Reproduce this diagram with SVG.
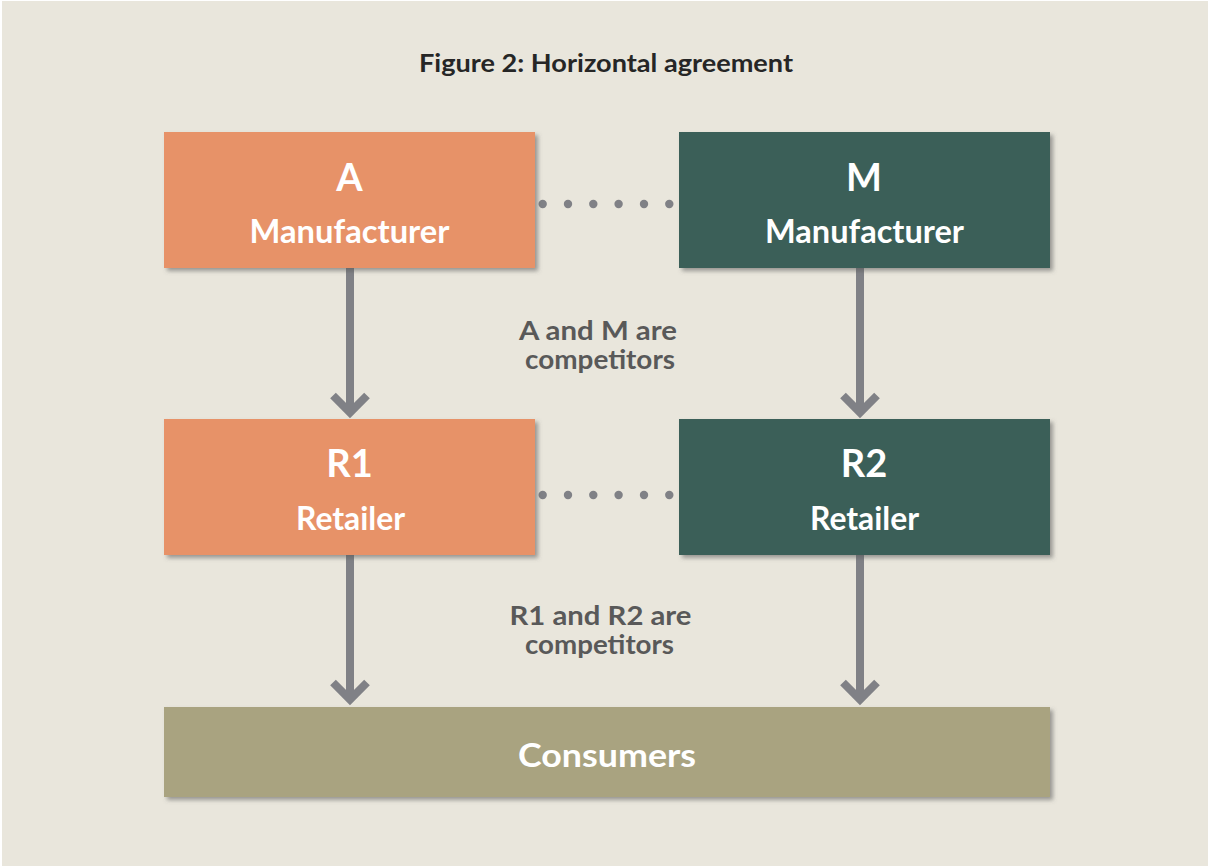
<svg xmlns="http://www.w3.org/2000/svg" width="1210" height="868" viewBox="0 0 1210 868">
<style>
.t{font-family:Lato,"Open Sans","Liberation Sans",sans-serif;font-weight:bold;text-anchor:middle}
.w{fill:#ffffff}
.big{font-size:38px}
.mid{font-size:32px}
.lab{font-size:26px;fill:#595959}
.conn line,.conn polyline{stroke:#808186;stroke-width:8;fill:none}
.dot{fill:#808186}
</style>
<defs>
<filter id="sh" x="-5%" y="-5%" width="115%" height="130%">
<feDropShadow dx="3" dy="3" stdDeviation="2" flood-color="#555" flood-opacity="0.55"/>
</filter>
</defs>
<rect x="0" y="0" width="1210" height="868" fill="#ffffff"/>
<rect x="2" y="1" width="1206" height="865" fill="#E9E6DC"/>
<text class="t" x="606" y="72" font-size="25" fill="#262626" textLength="374" lengthAdjust="spacingAndGlyphs">Figure 2: Horizontal agreement</text>

<g id="connectors" class="conn">
<line x1="350" y1="268" x2="350" y2="412"/>
<polyline points="333,395.5 350,412.5 367,395.5" stroke-linejoin="miter"/>
<line x1="860" y1="268" x2="860" y2="412"/>
<polyline points="843,395.5 860,412.5 877,395.5" stroke-linejoin="miter"/>
<line x1="350" y1="555" x2="350" y2="699"/>
<polyline points="333,682.5 350,699.5 367,682.5" stroke-linejoin="miter"/>
<line x1="860" y1="555" x2="860" y2="699"/>
<polyline points="843,682.5 860,699.5 877,682.5" stroke-linejoin="miter"/>
<g id="dots-top">
<circle class="dot" cx="542.7" cy="204" r="4.2"/>
<circle class="dot" cx="568" cy="204" r="4.2"/>
<circle class="dot" cx="593.3" cy="204" r="4.2"/>
<circle class="dot" cx="618.6" cy="204" r="4.2"/>
<circle class="dot" cx="644" cy="204" r="4.2"/>
<circle class="dot" cx="669.3" cy="204" r="4.2"/>
</g>
<g id="dots-bottom">
<circle class="dot" cx="542.7" cy="495" r="4.2"/>
<circle class="dot" cx="568" cy="495" r="4.2"/>
<circle class="dot" cx="593.3" cy="495" r="4.2"/>
<circle class="dot" cx="618.6" cy="495" r="4.2"/>
<circle class="dot" cx="644" cy="495" r="4.2"/>
<circle class="dot" cx="669.3" cy="495" r="4.2"/>
</g>
</g>

<g id="A">
<rect x="164" y="132" width="371" height="136" fill="#E79268" filter="url(#sh)"/>
<text class="t w big" x="349.5" y="191">A</text>
<text class="t w mid" x="349.5" y="243" textLength="200" lengthAdjust="spacingAndGlyphs">Manufacturer</text>
</g>
<g id="M">
<rect x="679" y="132" width="371" height="136" fill="#3A5E58" filter="url(#sh)"/>
<text class="t w big" x="864" y="191">M</text>
<text class="t w mid" x="864.5" y="243" textLength="199" lengthAdjust="spacingAndGlyphs">Manufacturer</text>
</g>
<g id="R1">
<rect x="164" y="419" width="371" height="136" fill="#E79268" filter="url(#sh)"/>
<text class="t w big" x="349.5" y="477">R1</text>
<text class="t w mid" x="350.5" y="530" textLength="109" lengthAdjust="spacingAndGlyphs">Retailer</text>
</g>
<g id="R2">
<rect x="679" y="419" width="371" height="136" fill="#3A5E58" filter="url(#sh)"/>
<text class="t w big" x="864" y="477">R2</text>
<text class="t w mid" x="864.5" y="530" textLength="109" lengthAdjust="spacingAndGlyphs">Retailer</text>
</g>
<g id="Consumers">
<rect x="164" y="707" width="886" height="90" fill="#A9A380" filter="url(#sh)"/>
<text class="t w mid" x="607" y="767" textLength="178" lengthAdjust="spacingAndGlyphs">Consumers</text>
</g>
<g id="label-manufacturers">
<text class="t lab" x="598" y="340" textLength="158" lengthAdjust="spacingAndGlyphs">A and M are</text>
<text class="t lab" x="600" y="369" textLength="150" lengthAdjust="spacingAndGlyphs">competitors</text>
</g>
<g id="label-retailers">
<text class="t lab" x="600.5" y="625" textLength="182" lengthAdjust="spacingAndGlyphs">R1 and R2 are</text>
<text class="t lab" x="599.5" y="654" textLength="149" lengthAdjust="spacingAndGlyphs">competitors</text>
</g>
</svg>
